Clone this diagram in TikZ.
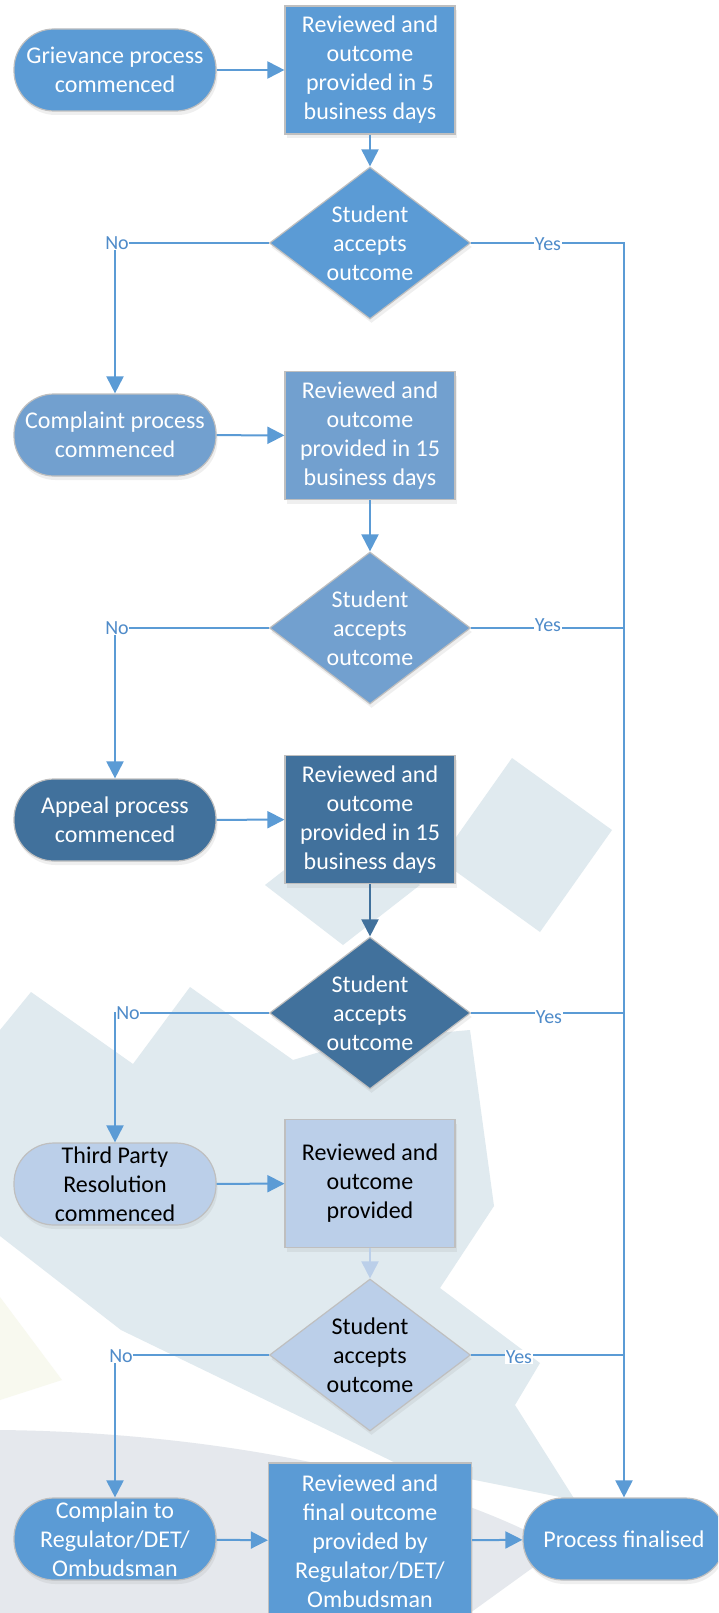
\documentclass[tikz,border=0pt]{standalone}
\usepackage{fontspec}
\setmainfont{Carlito}
\usetikzlibrary{shapes.geometric,arrows.meta,shadows}

\definecolor{blueA}{HTML}{5B9BD5}
\definecolor{blueB}{HTML}{72A0CF}
\definecolor{blueC}{HTML}{41719C}
\definecolor{blueD}{HTML}{BBCFE9}
\definecolor{edgegrey}{HTML}{BFBFBF}
\definecolor{wmblue}{HTML}{E0EAEF}
\definecolor{wmgrey}{HTML}{E5E8ED}
\definecolor{wmyellow}{HTML}{F8F9EF}
\definecolor{labelblue}{HTML}{4F8BC9}

\tikzset{
  base/.style={draw=edgegrey, line width=1.2pt, font=\fontsize{24}{29}\selectfont,
    align=center, inner sep=0pt,
    drop shadow={opacity=0.12, shadow xshift=1.5pt, shadow yshift=-4pt}},
  term/.style={base, rectangle, rounded corners=40pt, minimum width=202pt, minimum height=82pt},
  proc/.style={base, rectangle, minimum width=170pt, minimum height=128pt},
  dec/.style={base, diamond, minimum width=201pt, minimum height=152pt},
  dectext/.style={font=\fontsize{24}{29}\selectfont, align=center, inner sep=0pt},
  conn/.style={draw=blueA, line width=2pt, -{Triangle[length=17pt,width=17pt]}},
  link/.style={draw=blueA, line width=2pt},
  lbl/.style={font=\fontsize{20}{22}\selectfont, text=labelblue, fill=white, inner sep=0.5pt},
}

\begin{document}
\begin{tikzpicture}[x=1pt, y=-1pt]
\useasboundingbox (0,0) rectangle (718,1613);
\clip (0,0) rectangle (718,1613);
\fill[white] (0,0) rectangle (718,1613);

% faint watermark shapes
\fill[wmblue] (512,758) -- (612,830) -- (540,932) -- (440,860) -- cycle;
\fill[wmblue] (342,825) -- (420,885) -- (343,945) -- (265,885) -- cycle;
\fill[wmblue] (0,1030) -- (31,992) -- (133,1064) -- (190,987) -- (293,1060)
  -- (360,1040) -- (470,1030) -- (494,1206) -- (440,1288) -- (540,1363)
  -- (515,1405) -- (575,1500) -- (400,1465) -- (121,1330) -- (0,1236) -- cycle;
\fill[wmyellow] (0,1297) -- (62,1380) -- (0,1400) -- cycle;
\fill[wmgrey] (0,1430) .. controls (200,1432) and (420,1470) .. (560,1548)
  -- (470,1613) -- (0,1613) -- cycle;

% grievance stage
\node[term, fill=blueA, text=white] (t1) at (115,70) {Grievance process\\commenced};
\node[proc, fill=blueA, text=white] (p1) at (370,70) {Reviewed and\\outcome\\provided in 5\\business days};
\node[dec, fill=blueA] (d1) at (370,243) {};
\node[dectext, text=white] (d1t) at (d1.center) {Student\\accepts\\outcome};

% complaint stage
\node[term, fill=blueB, text=white] (t2) at (115,435) {Complaint process\\commenced};
\node[proc, fill=blueB, text=white] (p2) at (370,435.5) {Reviewed and\\outcome\\provided in 15\\business days};
\node[dec, fill=blueB] (d2) at (370,628) {};
\node[dectext, text=white] (d2t) at (d2.center) {Student\\accepts\\outcome};

% appeal stage
\node[term, fill=blueC, text=white] (t3) at (115,820) {Appeal process\\commenced};
\node[proc, fill=blueC, text=white] (p3) at (370,819.5) {Reviewed and\\outcome\\provided in 15\\business days};
\node[dec, fill=blueC] (d3) at (370,1013) {};
\node[dectext, text=white] (d3t) at (d3.center) {Student\\accepts\\outcome};

% third party stage
\node[term, fill=blueD, text=black] (t4) at (115,1184) {Third Party\\Resolution\\commenced};
\node[proc, fill=blueD, text=black] (p4) at (370,1183.5) {Reviewed and\\outcome\\provided};
\node[dec, fill=blueD] (d4) at (370,1355) {};
\node[dectext, text=black] (d4t) at (d4.center) {Student\\accepts\\outcome};

% external stage and end
\node[term, fill=blueA, text=white] (t5) at (115,1539) {Complain to\\Regulator/DET/\\Ombudsman};
\node[proc, fill=blueA, text=white, minimum width=203pt, minimum height=156pt] (p5) at (370,1541) {Reviewed and\\final outcome\\provided by\\Regulator/DET/\\Ombudsman};
\node[term, fill=blueA, text=white] (pf) at (624,1539) {Process finalised};

% connectors
\draw[conn] (t1) -- (p1);
\draw[conn] (p1) -- (d1);
\draw[conn] (t2) -- (p2);
\draw[conn] (p2) -- (d2);
\draw[conn] (t3) -- (p3);
\draw[conn, draw=blueC] (p3) -- (d3);
\draw[conn] (t4) -- (p4);
\draw[conn, draw=blueD] (p4) -- (d4);
\draw[conn] (t5) -- (p5);
\draw[conn] (p5) -- (pf);

\draw[conn] (d1.west) -| (t2.north);
\draw[conn] (d2.west) -| (t3.north);
\draw[conn] (d3.west) -| (t4.north);
\draw[conn] (d4.west) -| (t5.north);

\draw[conn] (d1.east) -| (pf.north);
\draw[link] (d2.east) -- (d2.east -| pf.north);
\draw[link] (d3.east) -- (d3.east -| pf.north);
\draw[link] (d4.east) -- (d4.east -| pf.north);

% branch labels
\node[lbl] (n1) at (117,243) {No};
\node[lbl] (n2) at (117,628) {No};
\node[lbl] (n3) at (128,1013) {No};
\node[lbl] (n4) at (121,1356) {No};
\node[lbl] (y1) at (548,244) {Yes};
\node[lbl] (y2) at (548,625) {Yes};
\node[lbl] (y3) at (549,1017) {Yes};
\node[lbl] (y4) at (519,1357) {Yes};
\end{tikzpicture}
\end{document}
